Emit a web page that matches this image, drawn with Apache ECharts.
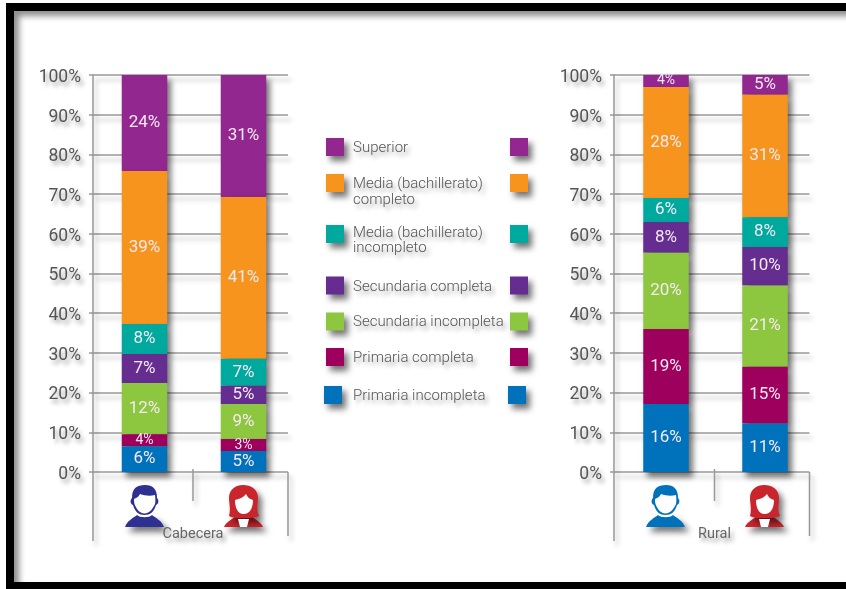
<!DOCTYPE html>
<html><head><meta charset="utf-8">
<script src="https://cdn.jsdelivr.net/npm/echarts@6/dist/echarts.min.js"></script>
<style>
html,body{margin:0;padding:0;background:#fff;overflow:hidden;width:846px;height:589px}
#frame{position:absolute;left:6px;top:3px;width:900px;height:586px;box-sizing:border-box;border:8px solid #000;border-bottom-width:7px;box-shadow:inset 5px 5px 6px rgba(0,0,0,.45)}
#main{position:absolute;left:0;top:0;width:846px;height:589px;filter:blur(.6px)}
</style></head><body>
<div id="frame"></div><div id="main"></div>
<script>
const levels = ['Primaria incompleta','Primaria completa','Secundaria incompleta','Secundaria completa','Media (bachillerato) incompleto','Media (bachillerato) completo','Superior'];
const colors = ['#0072BC','#9E005D','#8DC63F','#662D91','#00A99D','#F7941E','#92278F'];
const groups = ['Hombre','Mujer'];
const panels = ['Cabecera','Rural'];
const tickLabels = ['0%','10%','20%','30%','40%','50%','60%','70%','80%','90%','100%'];
// segment heights, bottom to top
const cabeceraHombre = [6.5,3.0,12.9,7.3,7.6,38.5,24.2];
const cabeceraMujer  = [5.3,3.0,8.8,4.6,6.8,40.8,30.7];
const ruralHombre    = [17.1,18.9,19.2,7.8,6.0,28.0,3.0];
const ruralMujer     = [12.2,14.3,20.5,9.7,7.5,30.8,5.0];
// printed labels
const cabeceraHombreLabels = ['6%','4%','12%','7%','8%','39%','24%'];
const cabeceraMujerLabels  = ['5%','3%','9%','5%','7%','41%','31%'];
const ruralHombreLabels    = ['16%','19%','20%','8%','6%','28%','4%'];
const ruralMujerLabels     = ['11%','15%','21%','10%','8%','31%','5%'];

const FONT='Roboto';
const txtShadow={textShadowColor:'rgba(0,0,0,.38)',textShadowBlur:4,textShadowOffsetX:3,textShadowOffsetY:4};
const lineShadow={shadowColor:'rgba(0,0,0,.28)',shadowBlur:5,shadowOffsetX:3,shadowOffsetY:5};
const boxShadow={shadowColor:'rgba(0,0,0,.55)',shadowBlur:6,shadowOffsetX:4,shadowOffsetY:5};

const iconPaths={
  manBody:'M0 42 C2 36 8 33 12 30 C15 33 24 33 27 30 C31 33 37 36 39 42 Z',
  manHalo:'M6 13 C6 2 12 -1 20 -1 C28 -1 33 3 33 13 C35 15 35 20 32 21 C30 28 25 32 19.5 32 C14 32 9 28 7 21 C4 20 4 15 6 13 Z',
  manHead:'M7 13 C7 3 12 0 20 0 C28 0 32 4 32 13 C34 15 34 19 31 20 C29 27 25 30 19.5 30 C14 30 10 27 8 20 C5 19 5 15 7 13 Z',
  manFace:'M9 14 C12 13 14 11 15 9 C20 11 26 11 30 10 C30.5 14 30.5 18 30 19 C27 25 24 28.5 19.5 28.5 C15 28.5 12 25 9.5 19 C9 17 9 15 9 14 Z',
  womanBody:'M0 42 C2 37 7 35 12 31 L27 31 C32 35 37 37 39 42 Z',
  womanHair:'M5 31 C7 24 5 18 5 13 C5 4 12 0 19 0 C27 0 34 4 34 13 C34 18 32 24 35 31 C30 33 26 33 19.5 33 C13 33 9 33 5 31 Z',
  womanNeck:'M14 34 L25 34 L23 42 L16 42 Z',
  womanFace:'M11 15 C16 14 20 12 22 9 C24 13 26 14 29 15 C29 23 26 29 19.5 29 C14 29 11 23 11 15 Z'
};
Object.keys(iconPaths).forEach(k=>echarts.graphic.registerShape(k,echarts.graphic.extendPath(iconPaths[k],{})));

const layouts=[
 {left:93,right:288,barLeft:95,mid:193,man:'#2E3192',manX:125,womanX:224,labelX:193},
 {left:614,right:809.5,barLeft:616.5,mid:714.5,man:'#0072BC',manX:646,womanX:745,labelX:714.5}
];
const TOP=75,BOTTOM=472,BARSPAN=198;

const grids=[],xAxes=[],yAxes=[],series=[];
const pdata=[[cabeceraHombre,cabeceraMujer],[ruralHombre,ruralMujer]];
const plabels=[[cabeceraHombreLabels,cabeceraMujerLabels],[ruralHombreLabels,ruralMujerLabels]];
layouts.forEach((L,p)=>{
  const frame=grids.length, bars=frame+1;
  grids.push({left:L.left,top:TOP,width:L.right-L.left,height:BOTTOM-TOP});
  grids.push({left:L.barLeft,top:TOP,width:BARSPAN,height:BOTTOM-TOP});
  xAxes.push({type:'category',gridIndex:frame,data:groups,show:false});
  xAxes.push({type:'category',gridIndex:bars,data:groups,show:false});
  yAxes.push({type:'value',gridIndex:frame,min:0,max:100,interval:10,
    axisLine:{show:true,lineStyle:{color:'#999',width:1.5,...lineShadow}},
    axisTick:{show:true,length:4,lineStyle:{color:'#999',width:1.5}},
    splitLine:{show:true,lineStyle:{color:'#999',width:1.5,...lineShadow}},
    axisLabel:{margin:12,
      rich:{t:{fontFamily:FONT,fontSize:17.5,color:'#555',padding:[5,0,0,0],...txtShadow}},
      formatter:v=>'{t|'+tickLabels[v/10]+'}'}});
  yAxes.push({type:'value',gridIndex:bars,min:0,max:100,interval:10,show:false,splitLine:{show:false}});
  levels.forEach((name,i)=>{
    series.push({type:'bar',name:name,xAxisIndex:bars,yAxisIndex:bars,stack:panels[p],barWidth:45.5,z:20-i,
      itemStyle:{color:colors[i],...boxShadow},
      data:groups.map((g,k)=>{
        const small=pdata[p][k][i]<4.5;
        return {value:pdata[p][k][i],
          label:{show:true,position:'inside',formatter:plabels[p][k][i],fontFamily:FONT,
            fontSize:small?14:17,color:'#f5e9f2'}};
      })});
  });
});

function line(x1,y1,x2,y2){return {type:'line',silent:true,z:5,shape:{x1,y1,x2,y2},style:{stroke:'#999',lineWidth:1.5,...lineShadow}};}
const graphics=[];
layouts.forEach((L,p)=>{
  graphics.push(line(L.left,BOTTOM,L.left,541),line(L.right,BOTTOM,L.right,536),line(L.mid,469,L.mid,501));
  graphics.push({type:'text',z:6,x:L.labelX,y:534,style:{text:panels[p],font:'14.5px '+FONT,fill:'#666',align:'center',verticalAlign:'middle',...txtShadow}});
  graphics.push({type:'group',x:L.manX,y:485,z:6,children:[
    {type:'manBody',style:{fill:L.man,...boxShadow},z2:1},
    {type:'manHalo',style:{fill:'#fff'},z2:2},
    {type:'manHead',style:{fill:L.man},z2:3},
    {type:'manFace',style:{fill:'#fff'},z2:4}
  ]});
  graphics.push({type:'group',x:L.womanX,y:485,z:6,children:[
    {type:'womanBody',style:{fill:'#C9252C',...boxShadow},z2:1},
    {type:'womanHair',style:{fill:'#C9252C',...boxShadow},z2:2},
    {type:'womanNeck',style:{fill:'#fff'},z2:3},
    {type:'womanFace',style:{fill:'#fff'},z2:4}
  ]});
});
const legendRows=[
 {i:6,y:147,lines:['Superior'],ty:[148]},
 {i:5,y:183,lines:['Media (bachillerato)','completo'],ty:[184,200]},
 {i:4,y:234,lines:['Media (bachillerato)','incompleto'],ty:[233,248]},
 {i:3,y:285.5,lines:['Secundaria completa'],ty:[287]},
 {i:2,y:321.5,lines:['Secundaria incompleta'],ty:[322]},
 {i:1,y:357,lines:['Primaria completa'],ty:[358]},
 {i:0,y:395,lines:['Primaria incompleta'],ty:[396],dx:-2}
];
legendRows.forEach(r=>{
  const dx=r.dx||0;
  [326+dx,510+dx].forEach(x=>graphics.push({type:'rect',z:6,shape:{x:x,y:r.y-9,width:18,height:18},style:{fill:colors[r.i],...boxShadow}}));
  r.lines.forEach((t,k)=>graphics.push({type:'text',z:6,x:353,y:r.ty[k],style:{text:t,font:'300 15px '+FONT,fill:'#555',verticalAlign:'middle',...txtShadow}}));
});

const chart=echarts.init(document.getElementById('main'),null,{renderer:'canvas'});
chart.setOption({animation:false,backgroundColor:'transparent',grid:grids,xAxis:xAxes,yAxis:yAxes,series:series,graphic:graphics});
</script>
</body></html>
